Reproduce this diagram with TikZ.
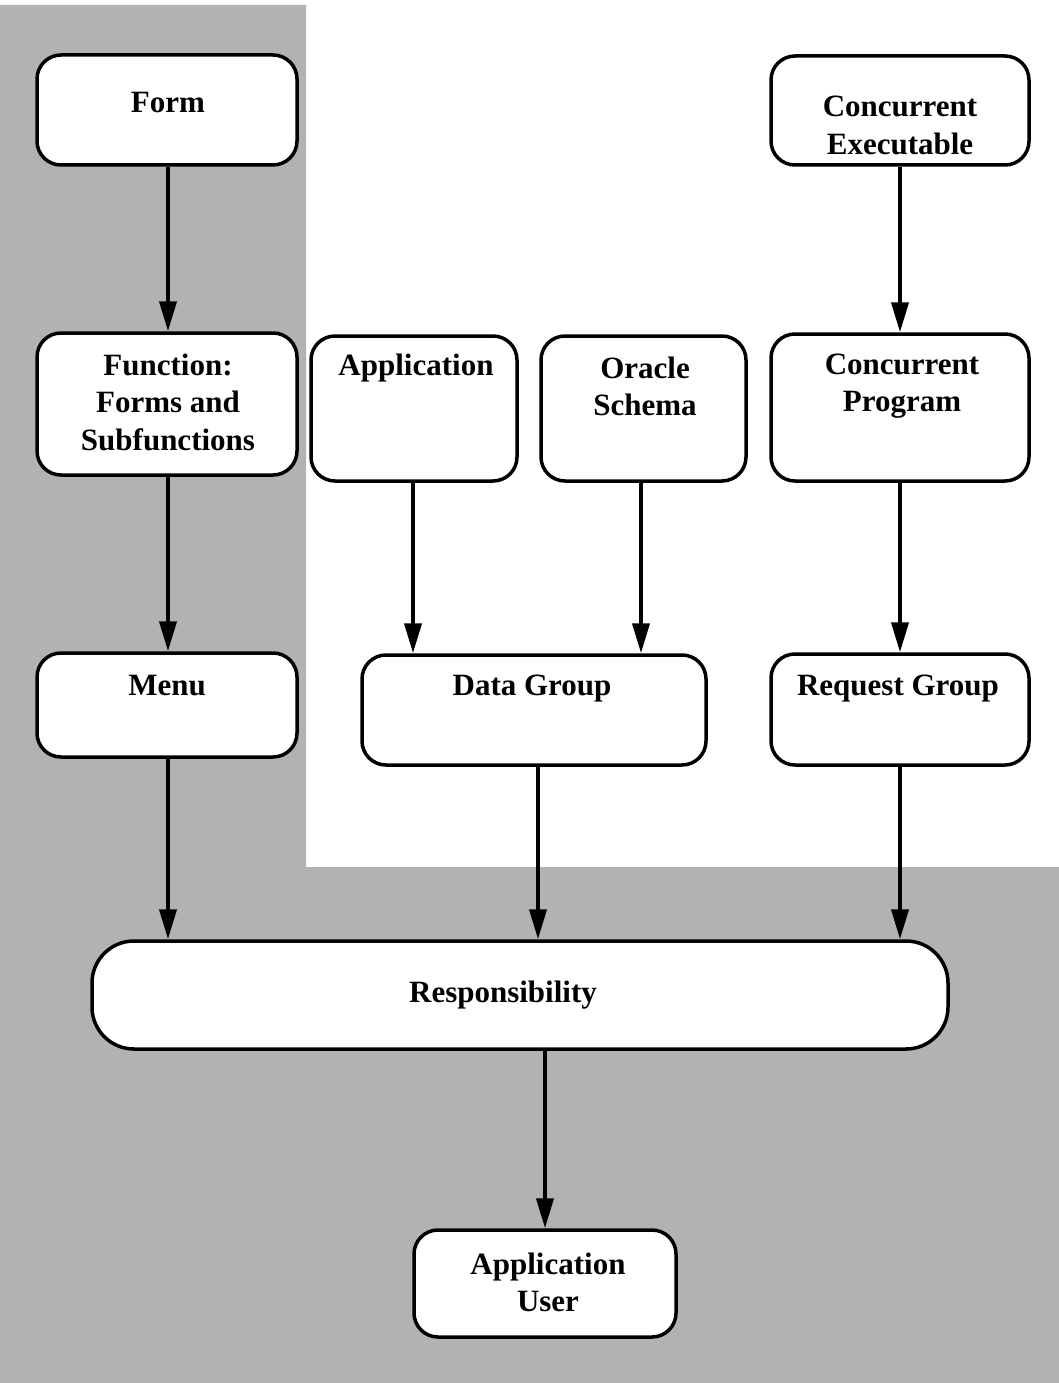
\documentclass[tikz,border=0pt]{standalone}
\usepackage{fontspec}
\setmainfont{Liberation Serif}
\usetikzlibrary{arrows.meta}
\begin{document}
\begin{tikzpicture}[x=1pt,y=-1pt,
  box/.style={draw=black, line width=3.5pt, fill=white, rounded corners=24pt, inner sep=0pt},
  lbl/.style={align=center, font=\fontsize{31}{37.5}\selectfont\bfseries, inner sep=0pt},
  flow/.style={line width=4pt, -{Triangle[length=30pt,width=17pt]}},
  shade/.style={fill=black!30}]
\useasboundingbox (0,0) rectangle (1059,1383);
\fill[white] (0,0) rectangle (1059,1383);
% grey L-shaped backdrop
\fill[shade] (3,5) -- (306,5) -- (306,867) -- (1059,867) -- (1059,1383) -- (0,1383) -- (0,5) -- cycle;

% boxes
\node[box, minimum width=260pt, minimum height=110pt] (form)  at (167,110) {};
\node[box, minimum width=260pt, minimum height=142pt] (func)  at (167,404) {};
\node[box, minimum width=260pt, minimum height=104pt] (menu)  at (167,705) {};
\node[box, minimum width=206pt, minimum height=145pt] (app)   at (414,408.5) {};
\node[box, minimum width=205pt, minimum height=145pt] (ora)   at (643.5,408.5) {};
\node[box, minimum width=258pt, minimum height=109pt] (cexe)  at (900,110.5) {};
\node[box, minimum width=258pt, minimum height=147pt] (cprog) at (900,407.5) {};
\node[box, minimum width=344pt, minimum height=110pt] (dgrp)  at (534,710) {};
\node[box, minimum width=258pt, minimum height=111pt] (rgrp)  at (900,709.5) {};
\node[box, rounded corners=42pt, minimum width=856pt, minimum height=108pt] (resp) at (520,995) {};
\node[box, minimum width=262pt, minimum height=107pt] (user)  at (545,1283.5) {};

% labels
\node[lbl] (formt)  at (168,103) {Form};
\node[lbl] (funct)  at (168,402) {Function:\\Forms and\\Subfunctions};
\node[lbl] (menut)  at (167,686) {Menu};
\node[lbl] (appt)   at (416,368) {Application};
\node[lbl] (orat)   at (645,386.5) {Oracle\\Schema};
\node[lbl] (cexet)  at (900,125.5) {Concurrent\\Executable};
\node[lbl] (cprogt) at (902,386) {Concurrent\\Program};
\node[lbl] (dgrpt)  at (532,689) {Data Group};
\node[lbl] (rgrpt)  at (898,689) {Request Group};
\node[lbl] (respt)  at (503,995) {Responsibility};
\node[lbl] (usert)  at (548,1282.5) {Application\\User};

% connectors
\draw[flow] (form.south -| 168,0) -- (func.north -| 168,0);
\draw[flow] (func.south -| 168,0) -- (menu.north -| 168,0);
\draw[flow] (menu.south -| 168,0) -- (resp.north -| 168,0);
\draw[flow] (app.south -| 413,0) -- (dgrp.north -| 413,0);
\draw[flow] (ora.south -| 641,0) -- (dgrp.north -| 641,0);
\draw[flow] (dgrp.south -| 538,0) -- (resp.north -| 538,0);
\draw[flow] (cexe.south) -- (cprog.north);
\draw[flow] (cprog.south) -- (rgrp.north);
\draw[flow] (rgrp.south) -- (resp.north -| rgrp.south);
\draw[flow] (resp.south -| user.north) -- (user.north);
\end{tikzpicture}
\end{document}
